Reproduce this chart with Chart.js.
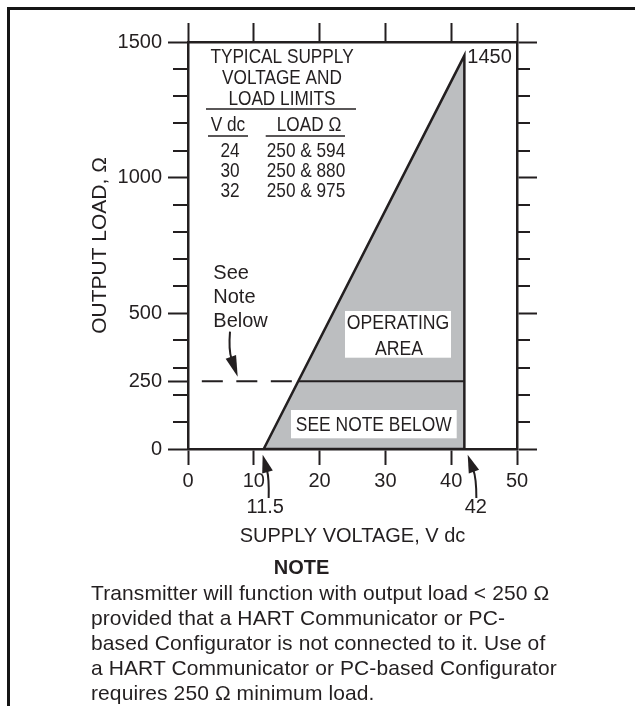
<!DOCTYPE html>
<html><head><meta charset="utf-8">
<script src="https://cdn.jsdelivr.net/npm/chart.js@4.4.1/dist/chart.umd.min.js"></script>
<style>
html,body{margin:0;padding:0;background:#fff;}
#wrap{position:relative;width:635px;height:706px;overflow:hidden;font-family:"Liberation Sans",Arial,Helvetica,sans-serif;color:#231f20;}
#c{position:absolute;left:0;top:0;}
#frame{position:absolute;left:7px;top:7px;width:700px;height:760px;border-top:3px solid #151515;border-left:3px solid #151515;pointer-events:none;}
#noteTitle{position:absolute;left:0;width:603px;top:556px;text-align:center;font-weight:bold;font-size:20px;line-height:23px;}
#note{position:absolute;left:91px;top:580px;font-size:21px;letter-spacing:0.1px;line-height:25px;white-space:nowrap;}
</style></head>
<body><div id="wrap"><canvas id="c" width="635" height="706"></canvas><div id="frame"></div>
<div id="noteTitle">NOTE</div>
<div id="note">Transmitter will function with output load &lt; 250 Ω<br>provided that a HART Communicator or PC-<br>based Configurator is not connected to it. Use of<br>a HART Communicator or PC-based Configurator<br>requires 250 Ω minimum load.</div>
</div>
<script>
// ---- data ----
const xTicks = [0, 10, 20, 30, 40, 50];
const yTicksLeft = [0, 250, 500, 1000, 1500];
const yTicksRight = [0, 500, 1000, 1500];
const yMinorTicks = [100, 200, 300, 400, 600, 700, 800, 900, 1100, 1200, 1300, 1400];
const areaX = [11.5, 42, 42, 11.5];
const areaY = [0, 1450, 0, 0];
const minLoadX = [16.8, 42];
const minLoadY = [250, 250];
const dashX = [2.1, 16.8];
const dashY = [250, 250];
const minVoltage = 11.5;
const maxVoltage = 42;
const maxLoad = 1450;
const tableHeader = ['TYPICAL SUPPLY', 'VOLTAGE AND', 'LOAD LIMITS'];
const tableCols = ['V dc', 'LOAD Ω'];
const tableVdc = ['24', '30', '32'];
const tableLoad = ['250 & 594', '250 & 880', '250 & 975'];

const INK = '#231f20';
const FONT = '"Liberation Sans", Arial, Helvetica, sans-serif';
const pts = (xs, ys) => xs.map((v, i) => ({x: v, y: ys[i]}));

function seg(ctx, x1, y1, x2, y2) { ctx.beginPath(); ctx.moveTo(x1, y1); ctx.lineTo(x2, y2); ctx.stroke(); }
function txt(ctx, s, x, y, size, align, sx, bold) {
  ctx.save();
  ctx.font = (bold ? 'bold ' : '') + size + 'px ' + FONT;
  ctx.textAlign = align; ctx.textBaseline = 'middle'; ctx.fillStyle = INK;
  ctx.translate(x, y); ctx.scale(sx || 1, 1); ctx.fillText(s, 0, 0);
  ctx.restore();
}
function arrow(ctx, tx, ty, cx, cy, px, py, len, w) {
  const dx = px - cx, dy = py - cy, d = Math.hypot(dx, dy);
  const ux = dx / d, uy = dy / d;
  const bx = px - ux * len, by = py - uy * len;
  ctx.beginPath(); ctx.moveTo(tx, ty); ctx.quadraticCurveTo(cx, cy, bx + ux * 2, by + uy * 2); ctx.stroke();
  ctx.beginPath(); ctx.moveTo(px, py);
  ctx.lineTo(bx - uy * w / 2, by + ux * w / 2);
  ctx.lineTo(bx + uy * w / 2, by - ux * w / 2);
  ctx.closePath(); ctx.fill();
}

const annot = {
  id: 'annot',
  afterDatasetsDraw(chart) {
    const {ctx, chartArea: a, scales: {x, y}} = chart;
    ctx.save();
    ctx.strokeStyle = INK; ctx.fillStyle = INK; ctx.lineWidth = 2;
    yMinorTicks.forEach(v => {
      const py = Math.round(y.getPixelForValue(v));
      seg(ctx, a.left - 15, py, a.left, py);
      seg(ctx, a.right, py, a.right + 13, py);
    });
    const L = a.left, T = a.top, C = 0.82;
    txt(ctx, tableHeader[0], L + 94, T + 15.5, 21, 'center', C);
    txt(ctx, tableHeader[1], L + 94, T + 36, 21, 'center', C);
    txt(ctx, tableHeader[2], L + 94, T + 57, 21, 'center', C);
    ctx.lineWidth = 1.6;
    seg(ctx, L + 18, T + 67, L + 168, T + 67);
    txt(ctx, tableCols[0], L + 40, T + 83, 21, 'center', C);
    txt(ctx, tableCols[1], L + 121, T + 83, 21, 'center', C);
    seg(ctx, L + 20, T + 94, L + 60, T + 94);
    seg(ctx, L + 77.7, T + 94, L + 157, T + 94);
    tableVdc.forEach((s, i) => {
      txt(ctx, s, L + 42, T + 109.7 + 20 * i, 21, 'center', C);
      txt(ctx, tableLoad[i], L + 118, T + 109.7 + 20 * i, 21, 'center', C);
    });
    txt(ctx, String(maxLoad), x.getPixelForValue(maxVoltage) + 3, y.getPixelForValue(maxLoad) + 1.5, 20, 'left', 1);
    ctx.fillStyle = '#fff';
    ctx.fillRect(L + 157, T + 269, 106, 46.7);
    ctx.fillRect(L + 103, T + 368, 165.7, 28.3);
    ctx.fillStyle = INK;
    txt(ctx, 'OPERATING', L + 210, T + 281.5, 20.5, 'center', 0.86);
    txt(ctx, 'AREA', L + 211, T + 307, 20.5, 'center', 0.86);
    txt(ctx, 'SEE NOTE BELOW', L + 185.8, T + 383, 20.5, 'center', 0.85);
    ['See', 'Note', 'Below'].forEach((s, i) => txt(ctx, s, L + 25.3, T + 231 + 24 * i, 20, 'left', 1));
    ctx.lineWidth = 2;
    arrow(ctx, 230, 331.7, 228.5, 350, 237.7, 376.7, 21, 11);
    const p1 = x.getPixelForValue(minVoltage), p2 = x.getPixelForValue(maxVoltage), p0 = y.getPixelForValue(0);
    txt(ctx, String(minVoltage), p1 + 1.6, p0 + 58.7, 20, 'center', 1);
    txt(ctx, String(maxVoltage), p2 + 11.5, p0 + 58.7, 20, 'center', 1);
    arrow(ctx, p1 + 5, p0 + 49, p1 + 5.5, p0 + 29, p1 - 1, p0 + 5.7, 18, 11);
    arrow(ctx, p2 + 12, p0 + 49, p2 + 12, p0 + 29, p2 + 3.3, p0 + 5.7, 18, 11);
    ctx.restore();
  }
};

const tickGrid = (len) => ({display: true, drawOnChartArea: false, drawTicks: true, tickLength: len, tickWidth: 2, tickColor: INK});
const border = {display: true, color: INK, width: 2.5};
const plain = v => String(v);

new Chart(document.getElementById('c'), {
  type: 'line',
  data: {
    datasets: [
      {data: pts(minLoadX, minLoadY), fill: false, borderColor: INK, borderWidth: 2, pointRadius: 0, order: 0},
      {data: pts(dashX, dashY), fill: false, borderColor: INK, borderWidth: 2, pointRadius: 0, borderDash: [21, 13.5], order: 0},
      {data: pts(areaX, areaY), fill: 'shape', backgroundColor: '#bcbec0', order: 5,
       borderColor: INK, borderWidth: 2.5, pointRadius: 0, tension: 0, borderJoinStyle: 'miter'}
    ]
  },
  options: {
    responsive: false, animation: false, devicePixelRatio: 1,
    layout: {padding: {left: 80, right: 0, top: 0, bottom: 147}},
    plugins: {legend: {display: false}, tooltip: {enabled: false}},
    scales: {
      x: {type: 'linear', position: 'bottom', min: 0, max: 50,
          afterBuildTicks: s => { s.ticks = xTicks.map(v => ({value: v})); },
          afterFit: s => { s.height = 110; },
          ticks: {autoSkip: false, maxRotation: 0, padding: 4.4, color: INK, font: {family: FONT, size: 20}, callback: plain},
          grid: tickGrid(16), border,
          title: {display: true, text: 'SUPPLY VOLTAGE, V dc', color: INK, font: {family: FONT, size: 20}, padding: {top: 0, bottom: 11}}},
      x2: {type: 'linear', position: 'top', min: 0, max: 50,
          afterBuildTicks: s => { s.ticks = xTicks.map(v => ({value: v})); },
          afterFit: s => { s.height = 42; },
          ticks: {display: false}, grid: tickGrid(19), border},
      y: {type: 'linear', position: 'left', min: 0, max: 1500,
          afterBuildTicks: s => { s.ticks = yTicksLeft.map(v => ({value: v})); },
          afterFit: s => { s.width = 108; },
          ticks: {autoSkip: false, padding: 6, color: INK, font: {family: FONT, size: 20}, callback: plain},
          grid: tickGrid(20), border,
          title: {display: true, text: 'OUTPUT LOAD, Ω', color: INK, font: {family: FONT, size: 21}, padding: {top: 7.4, bottom: 0}}},
      y2: {type: 'linear', position: 'right', min: 0, max: 1500,
          afterBuildTicks: s => { s.ticks = yTicksRight.map(v => ({value: v})); },
          afterFit: s => { s.width = 118; },
          ticks: {display: false}, grid: tickGrid(20), border}
    }
  },
  plugins: [annot]
});
</script>
</body></html>
